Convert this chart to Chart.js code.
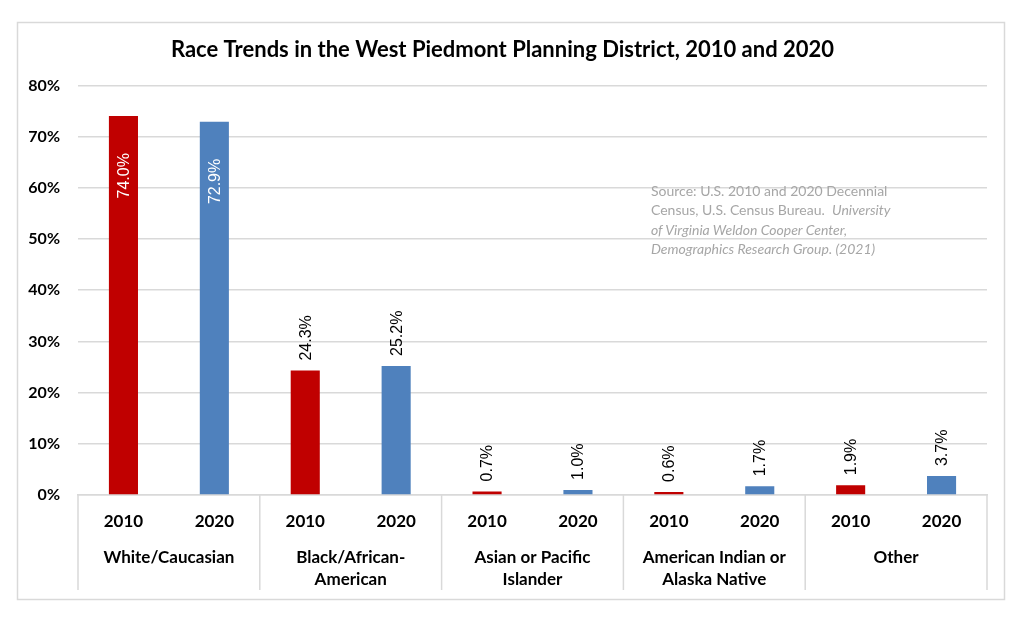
<!DOCTYPE html>
<html>
<head>
<meta charset="utf-8">
<script src="https://cdn.jsdelivr.net/npm/chart.js@4"></script>
<style>
  body { margin: 0; background: #fff; }
  #wrap { position: relative; width: 1024px; height: 625px; }
  #source {
    position: absolute; left: 651px; top: 181px;
    font: 14px Lato, sans-serif; line-height: 19.3px; color: #a6a6a6;
    white-space: nowrap;
  }
  #source i { font-style: italic; }
</style>
</head>
<body>
<div id="wrap">
  <canvas id="chart" width="1024" height="625"></canvas>
  <div id="source">Source: U.S. 2010 and 2020 Decennial<br>Census, U.S. Census Bureau.&nbsp; <i>University</i><br><i>of Virginia Weldon Cooper Center,</i><br><i>Demographics Research Group. (2021)</i></div>
</div>
<script>
const years = ['2010', '2020', '2010', '2020', '2010', '2020', '2010', '2020', '2010', '2020'];
const groups = ['White/Caucasian', ['Black/African-', 'American'], ['Asian or Pacific', 'Islander'], ['American Indian or', 'Alaska Native'], 'Other'];
const shares = [74.0, 72.9, 24.3, 25.2, 0.7, 1.0, 0.6, 1.7, 1.9, 3.7];
const yearColors = { '2010': '#c00000', '2020': '#4f81bd' };

// outer frame
const framePlugin = {
  id: 'frame',
  beforeDraw(chart) {
    const ctx = chart.ctx;
    ctx.save();
    ctx.strokeStyle = '#d9d9d9';
    ctx.lineWidth = 1.5;
    ctx.strokeRect(17.5, 22.5, 987, 577);
    ctx.restore();
  },
};

// vertical separators between race groups, below the axis
const separatorPlugin = {
  id: 'separators',
  afterDraw(chart) {
    const x = chart.scales.x;
    const ctx = chart.ctx;
    const bottom = chart.scales.x2.bottom - 10;
    ctx.save();
    ctx.strokeStyle = '#d9d9d9';
    ctx.lineWidth = 1.5;
    for (let i = 0; i <= years.length; i += 2) {
      let px;
      if (i === 0) px = x.left;
      else if (i === years.length) px = x.right;
      else px = (x.getPixelForValue(i - 1) + x.getPixelForValue(i)) / 2;
      ctx.beginPath();
      ctx.moveTo(px, x.top);
      ctx.lineTo(px, bottom);
      ctx.stroke();
    }
    ctx.restore();
  },
};

// rotated value labels
const valueLabelPlugin = {
  id: 'valueLabels',
  afterDatasetsDraw(chart) {
    const ctx = chart.ctx;
    const meta = chart.getDatasetMeta(0);
    ctx.save();
    ctx.font = '16px "Liberation Sans", Arial, sans-serif';
    ctx.textBaseline = 'middle';
    meta.data.forEach((bar, i) => {
      const v = shares[i];
      const text = v.toFixed(1) + '%';
      ctx.save();
      ctx.translate(bar.x, bar.y);
      ctx.rotate(-Math.PI / 2);
      if (v > 50) {
        ctx.fillStyle = '#ffffff';
        ctx.textAlign = 'right';
        ctx.fillText(text, -37, 1);
      } else {
        ctx.fillStyle = '#000000';
        ctx.textAlign = 'left';
        ctx.fillText(text, 10, 1);
      }
      ctx.restore();
    });
    ctx.restore();
  },
};

new Chart(document.getElementById('chart'), {
  type: 'bar',
  data: {
    labels: years,
    datasets: [{
      data: shares,
      backgroundColor: years.map(y => yearColors[y]),
      categoryPercentage: 1,
      barPercentage: 0.32,
    }],
  },
  options: {
    responsive: false,
    animation: false,
    layout: { padding: { top: 37, left: 18, right: 37, bottom: 25 } },
    plugins: {
      legend: { display: false },
      tooltip: { enabled: false },
      title: {
        display: true,
        text: 'Race Trends in the West Piedmont Planning District, 2010 and 2020',
        color: '#000',
        font: { family: 'Lato', size: 22, weight: 'bold' },
        padding: { top: 0, bottom: 22 },
      },
    },
    scales: {
      y: {
        min: 0,
        max: 80,
        ticks: {
          stepSize: 10,
          callback: v => v + '%',
          color: '#000',
          padding: 18,
          font: { family: 'Lato', size: 16, weight: 'bold' },
        },
        grid: { color: '#d9d9d9', lineWidth: 1.5, drawTicks: false },
        border: { display: false },
        afterFit: s => { s.width = 60; },
      },
      x: {
        ticks: {
          color: '#000',
          padding: 8,
          font: { family: 'Lato', size: 17, weight: 'bold' },
        },
        grid: { display: false },
        border: { color: '#d9d9d9', width: 1.5 },
        afterFit: s => { s.height = 42; },
      },
      x2: {
        type: 'category',
        position: 'bottom',
        labels: groups,
        offset: true,
        ticks: {
          color: '#000',
          padding: 1,
          font: { family: 'Lato', size: 17, weight: 'bold', lineHeight: 1.3 },
        },
        grid: { display: false },
        border: { display: false },
        afterFit: s => { s.height = 63; },
      },
    },
  },
  plugins: [framePlugin, separatorPlugin, valueLabelPlugin],
});
</script>
</body>
</html>
